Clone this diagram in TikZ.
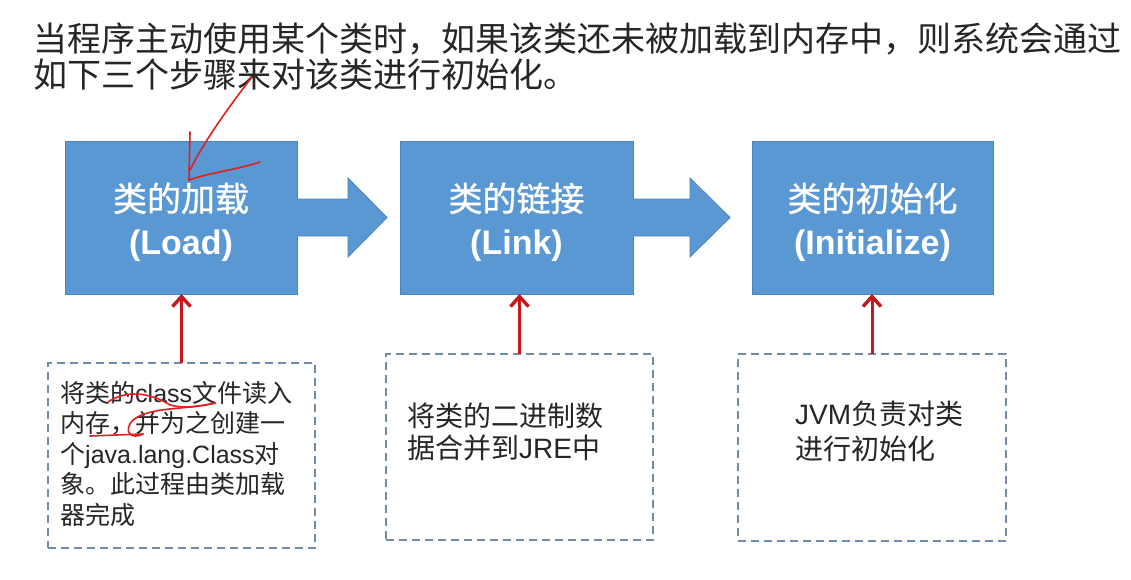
\documentclass[tikz,border=0pt]{standalone}
\usepackage{fontspec}
\setmainfont{Liberation Sans}
\newfontfamily\cjk{Noto Sans CJK SC}
\newfontfamily\cjkbox[FakeBold=1]{Noto Sans CJK SC}
\usetikzlibrary{arrows.meta,calc}
\definecolor{boxblue}{HTML}{5A98D3}
\definecolor{boxedge}{HTML}{4A84BE}
\definecolor{dashgray}{HTML}{6F8DAA}
\definecolor{arrred}{HTML}{C8161D}
\definecolor{txtdark}{HTML}{262626}
\definecolor{pen}{HTML}{E0201C}
\newcommand{\zh}[1]{{\cjk #1}}
\newcommand{\zhb}[1]{{\mdseries\cjkbox #1}}
\begin{document}
\begin{tikzpicture}[x=1pt,y=-1pt,
  stagebox/.style={draw=boxedge, fill=boxblue, line width=0.8pt, minimum height=153pt,
    inner sep=0pt, outer sep=0pt},
  stagelabel/.style={inner sep=0pt, text=white, align=center,
    font=\fontsize{34}{43}\selectfont\bfseries},
  notebox/.style={draw=dashgray, dash pattern=on 8pt off 5pt, line width=1.8pt,
    minimum width=267pt, minimum height=186pt, inner sep=0pt, outer sep=0pt},
  notetext/.style={anchor=north west, align=left, inner sep=0pt, text=txtdark},
  blockarrow/.style={fill=boxblue, draw=boxedge, line width=0.8pt, line join=miter},
  redarrow/.style={draw=arrred, line width=3pt, -{Straight Barb[length=10pt,width=18pt,line width=3.4pt]}},
  scribble/.style={draw=pen, line width=1.6pt, line cap=round, line join=round},
  titletext/.style={anchor=base west, inner sep=0pt, text=txtdark,
    font=\fontsize{34}{36}\selectfont\cjk}]
\fill[white] (0,0) rectangle (1131,580);
\useasboundingbox (0,0) rectangle (1131,580);

% title
\node[titletext] (title1) at (33,52) {当程序主动使用某个类时，如果该类还未被加载到内存中，则系统会通过};
\node[titletext] (title2) at (33,88) {如下三个步骤来对该类进行初始化。};

% stage boxes
\node[stagebox, minimum width=232pt] (b1) at (181,217.5) {};
\node[stagebox, minimum width=233pt] (b2) at (516.5,217.5) {};
\node[stagebox, minimum width=241pt] (b3) at (872.5,217.5) {};
\node[stagelabel] (l1) at ($(b1.center)+(0,4.5)$) {\zhb{类的加载}\\(Load)};
\node[stagelabel] (l2) at ($(b2.center)+(0,4.5)$) {\zhb{类的链接}\\(Link)};
\node[stagelabel] (l3) at ($(b3.center)+(0,4.5)$) {\zhb{类的初始化}\\(Initialize)};

% block arrows
\coordinate (tipA) at ($(b2.west)+(-13,0)$);
\coordinate (tipB) at ($(b3.west)+(-22,0)$);
\path[blockarrow] ($(b1.east)+(0,-18.5)$) -- ($(tipA)+(-39,-18.5)$) -- ($(tipA)+(-39,-39.5)$)
  -- (tipA) -- ($(tipA)+(-39,39.5)$) -- ($(tipA)+(-39,18.5)$) -- ($(b1.east)+(0,18.5)$);
\path[blockarrow] ($(b2.east)+(0,-18.5)$) -- ($(tipB)+(-40,-18.5)$) -- ($(tipB)+(-40,-39.5)$)
  -- (tipB) -- ($(tipB)+(-40,39.5)$) -- ($(tipB)+(-40,18.5)$) -- ($(b2.east)+(0,18.5)$);

% note boxes
\node[notebox, minimum width=267pt, minimum height=185pt] (nA) at (181.5,455.5) {};
\node[notebox, minimum width=267pt, minimum height=186pt] (nB) at (519.5,447) {};
\node[notebox, minimum width=268pt, minimum height=187pt] (nC) at (872,447.5) {};

\node[notetext, font=\fontsize{25}{30.5}\selectfont] (tA) at (60,381)
  {\zh{将类的}class\zh{文件读入}\\\zh{内存，并为之创建一}\\\zh{个}java.lang.Class\zh{对}\\\zh{象。此过程由类加载}\\\zh{器完成}};
\node[notetext, font=\fontsize{28}{32}\selectfont] (tB) at (407,403)
  {\zh{将类的二进制数}\\\zh{据合并到}JRE\zh{中}};
\node[notetext, font=\fontsize{28}{35}\selectfont] (tC) at (795,401)
  {JVM\zh{负责对类}\\\zh{进行初始化}};

% red arrows
\draw[redarrow] (nA.north) -- (nA.north |- b1.south);
\draw[redarrow] (nB.north) -- (nB.north |- b2.south);
\draw[redarrow] (nC.north) -- (nC.north |- b3.south);

% hand-drawn annotations
\draw[scribble] (252,77) .. controls (228,108) and (205,140) .. (190,170);
\draw[scribble] (190,132) -- (189,180);
\draw[scribble] (189,180) .. controls (212,172) and (236,170) .. (260,162);
\draw[scribble] (108,402) .. controls (125,390) and (150,392) .. (170,405)
  .. controls (185,409) and (200,406) .. (215,403);
\draw[scribble] (215,403) .. controls (190,410) and (150,406) .. (133,420)
  .. controls (122,432) and (132,440) .. (143,434);
\draw[scribble] (90,436) -- (143,434);
\end{tikzpicture}
\end{document}
